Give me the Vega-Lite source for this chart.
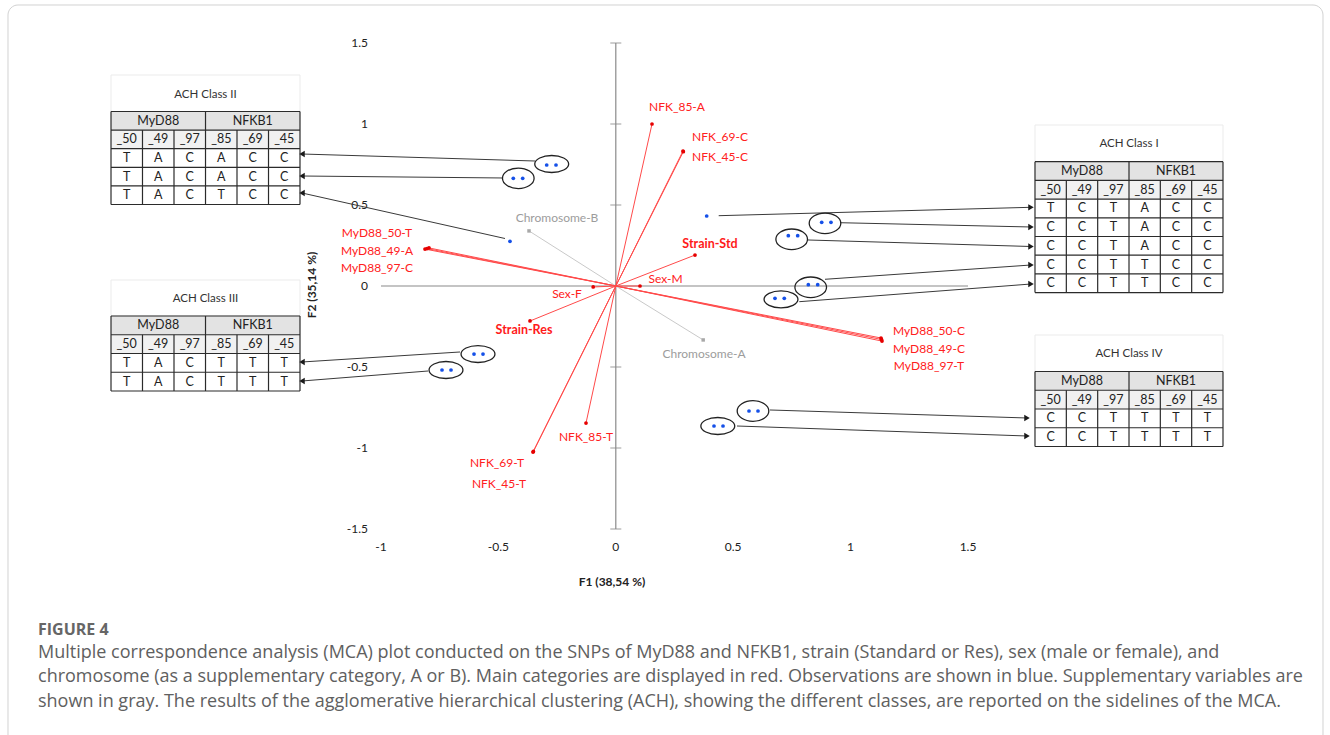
{
"$schema": "https://vega.github.io/schema/vega-lite/v6.json",
"width": 587, "height": 486,
"autosize": {"type": "none"},
"padding": {"left": 381, "top": 43, "right": 362, "bottom": 206},
"background": "white",
"config": {"view": {"stroke": null}, "font": "Lato"},
"datasets": {
"axl": [{"x":-1,"x2":1.5,"y":0,"y2":0},{"x":0,"x2":0,"y":-1.5,"y2":1.5}],
"yt": [{"x":0,"y":-1.5},{"x":0,"y":-1},{"x":0,"y":-0.5},{"x":0,"y":0.5},{"x":0,"y":1},{"x":0,"y":1.5}],
"xlab": [{"x":-1,"y":-1.6111,"t":"-1"},{"x":-0.5,"y":-1.6111,"t":"-0.5"},{"x":0,"y":-1.6111,"t":"0"},{"x":0.5,"y":-1.6111,"t":"0.5"},{"x":1,"y":-1.6111,"t":"1"},{"x":1.5,"y":-1.6111,"t":"1.5"}],
"ylab": [{"x":-1.0554,"y":1.5,"t":"1.5"},{"x":-1.0554,"y":1,"t":"1"},{"x":-1.0554,"y":0.5,"t":"0.5"},{"x":-1.0554,"y":0,"t":"0"},{"x":-1.0554,"y":-0.5,"t":"-0.5"},{"x":-1.0554,"y":-1,"t":"-1"},{"x":-1.0554,"y":-1.5,"t":"-1.5"}],
"cats": [
{"n":"NFK_85-A","x":0.1542,"y":1.0,"k":"m"},
{"n":"NFK_69-C","x":0.2862,"y":0.833,"k":"m"},
{"n":"NFK_45-C","x":0.2875,"y":0.829,"k":"m"},
{"n":"MyD88_50-T","x":-0.8126,"y":0.228,"k":"m"},
{"n":"MyD88_49-A","x":-0.7956,"y":0.235,"k":"m"},
{"n":"MyD88_97-C","x":-0.8041,"y":0.231,"k":"m"},
{"n":"Sex-F","x":-0.0963,"y":-0.006,"k":"m"},
{"n":"Sex-M","x":0.1031,"y":0.0,"k":"m"},
{"n":"Strain-Std","x":0.3373,"y":0.191,"k":"m"},
{"n":"Strain-Res","x":-0.3654,"y":-0.216,"k":"m"},
{"n":"MyD88_50-C","x":1.1295,"y":-0.321,"k":"m"},
{"n":"MyD88_49-C","x":1.1337,"y":-0.340,"k":"m"},
{"n":"MyD88_97-T","x":1.1316,"y":-0.330,"k":"m"},
{"n":"NFK_85-T","x":-0.1269,"y":-0.846,"k":"m"},
{"n":"NFK_69-T","x":-0.3526,"y":-1.025,"k":"m"},
{"n":"NFK_45-T","x":-0.3510,"y":-1.021,"k":"m"},
{"n":"Chromosome-B","x":-0.3697,"y":0.340,"k":"s"},
{"n":"Chromosome-A","x":0.3722,"y":-0.333,"k":"s"}
],
"labs": [
{"t":"NFK_85-A","x":0.2606,"y":1.105,"k":"m"},
{"t":"NFK_69-C","x":0.4438,"y":0.920,"k":"m"},
{"t":"NFK_45-C","x":0.4438,"y":0.796,"k":"m"},
{"t":"MyD88_50-T","x":-1.017,"y":0.327,"k":"m"},
{"t":"MyD88_49-A","x":-1.017,"y":0.216,"k":"m"},
{"t":"MyD88_97-C","x":-1.017,"y":0.111,"k":"m"},
{"t":"Sex-F","x":-0.2078,"y":-0.049,"k":"m"},
{"t":"Sex-M","x":0.2117,"y":0.043,"k":"m"},
{"t":"Strain-Std","x":0.4012,"y":0.259,"k":"b"},
{"t":"Strain-Res","x":-0.391,"y":-0.272,"k":"b"},
{"t":"MyD88_50-C","x":1.3339,"y":-0.278,"k":"m"},
{"t":"MyD88_49-C","x":1.3339,"y":-0.389,"k":"m"},
{"t":"MyD88_97-T","x":1.3339,"y":-0.494,"k":"m"},
{"t":"NFK_85-T","x":-0.1269,"y":-0.932,"k":"m"},
{"t":"NFK_69-T","x":-0.506,"y":-1.093,"k":"m"},
{"t":"NFK_45-T","x":-0.4975,"y":-1.222,"k":"m"},
{"t":"Chromosome-B","x":-0.2504,"y":0.420,"k":"s"},
{"t":"Chromosome-A","x":0.3756,"y":-0.420,"k":"s"}
],
"obs": [{"x":-0.2943,"y":0.7469},{"x":-0.2547,"y":0.7469},{"x":-0.4365,"y":0.6648},{"x":-0.3965,"y":0.6648},{"x":-0.4506,"y":0.2759},{"x":0.3871,"y":0.4321},{"x":0.8769,"y":0.3932},{"x":0.9165,"y":0.3932},{"x":0.7347,"y":0.3105},{"x":0.7747,"y":0.3105},{"x":0.8199,"y":0.008},{"x":0.8599,"y":0.008},{"x":0.678,"y":-0.0759},{"x":0.7176,"y":-0.0759},{"x":-0.6039,"y":-0.4198},{"x":-0.5656,"y":-0.4198},{"x":-0.7402,"y":-0.5185},{"x":-0.7019,"y":-0.5185},{"x":0.5673,"y":-0.7716},{"x":0.6056,"y":-0.7716},{"x":0.4182,"y":-0.8642},{"x":0.4566,"y":-0.8642}],
"ell": [{"x":-0.273,"y":0.7531,"g":"w"},{"x":-0.4153,"y":0.6648,"g":"r"},{"x":0.891,"y":0.387,"g":"r"},{"x":0.7491,"y":0.2883,"g":"r"},{"x":0.8301,"y":-0.008,"g":"r"},{"x":0.7036,"y":-0.0821,"g":"w"},{"x":-0.5869,"y":-0.4198,"g":"w"},{"x":-0.7232,"y":-0.5185,"g":"w"},{"x":0.5843,"y":-0.7716,"g":"r"},{"x":0.4344,"y":-0.8642,"g":"w"}],
"arr": [
{"x":-0.3441,"y":0.7716,"x2":-1.3365,"y2":0.8148,"d":"L"},
{"x":-0.4804,"y":0.6667,"x2":-1.3365,"y2":0.679,"d":"L"},
{"x":-0.4719,"y":0.2932,"x2":-1.3365,"y2":0.5741,"d":"L"},
{"x":-0.6635,"y":-0.4074,"x2":-1.3365,"y2":-0.4691,"d":"L"},
{"x":-0.7998,"y":-0.5247,"x2":-1.3365,"y2":-0.5864,"d":"L"},
{"x":0.4382,"y":0.434,"x2":1.7683,"y2":0.4858,"d":"R"},
{"x":0.9549,"y":0.3907,"x2":1.7683,"y2":0.3642,"d":"R"},
{"x":0.8186,"y":0.284,"x2":1.7683,"y2":0.2438,"d":"R"},
{"x":0.891,"y":0.0414,"x2":1.7683,"y2":0.1296,"d":"R"},
{"x":0.7815,"y":-0.0969,"x2":1.7683,"y2":0.0123,"d":"R"},
{"x":0.6567,"y":-0.7654,"x2":1.7513,"y2":-0.8148,"d":"R"},
{"x":0.5162,"y":-0.8642,"x2":1.7513,"y2":-0.9259,"d":"R"}
],
"fills": [
{"x":-2.1499,"x2":-1.345,"y":1.0772,"y2":0.9623,"f":"h1"},{"x":-2.1499,"x2":-1.345,"y":0.9623,"y2":0.8475,"f":"h2"},
{"x":-2.1499,"x2":-1.345,"y":-0.1852,"y2":-0.3009,"f":"h1"},{"x":-2.1499,"x2":-1.345,"y":-0.3009,"y2":-0.4167,"f":"h2"},
{"x":1.7853,"x2":2.586,"y":0.7673,"y2":0.6519,"f":"h1"},{"x":1.7853,"x2":2.586,"y":0.6519,"y2":0.5364,"f":"h2"},
{"x":1.7853,"x2":2.586,"y":-0.5278,"y2":-0.6435,"f":"h1"},{"x":1.7853,"x2":2.586,"y":-0.6435,"y2":-0.7593,"f":"h2"}
],
"tbox": [{"x":-2.1499,"x2":-1.345,"y":1.3025,"y2":1.0772},{"x":-2.1499,"x2":-1.345,"y":0.037,"y2":-0.1852},{"x":1.7853,"x2":2.586,"y":0.9938,"y2":0.7673},{"x":1.7853,"x2":2.586,"y":-0.3025,"y2":-0.5278}],
"ttl": [{"x":-1.7474,"y":1.179,"t":"ACH Class II"},{"x":-1.7474,"y":-0.0802,"t":"ACH Class III"},{"x":2.1857,"y":0.8765,"t":"ACH Class I"},{"x":2.1857,"y":-0.4198,"t":"ACH Class IV"}],
"grid": [
{"x":-2.1499,"x2":-1.345,"y":1.0772,"y2":1.0772},{"x":-2.1499,"x2":-1.345,"y":0.9623,"y2":0.9623},{"x":-2.1499,"x2":-1.345,"y":0.8475,"y2":0.8475},{"x":-2.1499,"x2":-1.345,"y":0.7327,"y2":0.7327},{"x":-2.1499,"x2":-1.345,"y":0.6179,"y2":0.6179},{"x":-2.1499,"x2":-1.345,"y":0.5031,"y2":0.5031},
{"x":-2.1499,"x2":-2.1499,"y":1.0772,"y2":0.5031},{"x":-1.7474,"x2":-1.7474,"y":1.0772,"y2":0.5031},{"x":-1.345,"x2":-1.345,"y":1.0772,"y2":0.5031},
{"x":-2.0158,"x2":-2.0158,"y":0.9623,"y2":0.5031},{"x":-1.8816,"x2":-1.8816,"y":0.9623,"y2":0.5031},{"x":-1.6133,"x2":-1.6133,"y":0.9623,"y2":0.5031},{"x":-1.4791,"x2":-1.4791,"y":0.9623,"y2":0.5031},
{"x":-2.1499,"x2":-1.345,"y":-0.1852,"y2":-0.1852},{"x":-2.1499,"x2":-1.345,"y":-0.3009,"y2":-0.3009},{"x":-2.1499,"x2":-1.345,"y":-0.4167,"y2":-0.4167},{"x":-2.1499,"x2":-1.345,"y":-0.5324,"y2":-0.5324},{"x":-2.1499,"x2":-1.345,"y":-0.6481,"y2":-0.6481},
{"x":-2.1499,"x2":-2.1499,"y":-0.1852,"y2":-0.6481},{"x":-1.7474,"x2":-1.7474,"y":-0.1852,"y2":-0.6481},{"x":-1.345,"x2":-1.345,"y":-0.1852,"y2":-0.6481},
{"x":-2.0158,"x2":-2.0158,"y":-0.3009,"y2":-0.6481},{"x":-1.8816,"x2":-1.8816,"y":-0.3009,"y2":-0.6481},{"x":-1.6133,"x2":-1.6133,"y":-0.3009,"y2":-0.6481},{"x":-1.4791,"x2":-1.4791,"y":-0.3009,"y2":-0.6481},
{"x":1.7853,"x2":2.586,"y":0.7673,"y2":0.7673},{"x":1.7853,"x2":2.586,"y":0.6519,"y2":0.6519},{"x":1.7853,"x2":2.586,"y":0.5364,"y2":0.5364},{"x":1.7853,"x2":2.586,"y":0.421,"y2":0.421},{"x":1.7853,"x2":2.586,"y":0.3056,"y2":0.3056},{"x":1.7853,"x2":2.586,"y":0.1901,"y2":0.1901},{"x":1.7853,"x2":2.586,"y":0.0747,"y2":0.0747},{"x":1.7853,"x2":2.586,"y":-0.0407,"y2":-0.0407},
{"x":1.7853,"x2":1.7853,"y":0.7673,"y2":-0.0407},{"x":2.1857,"x2":2.1857,"y":0.7673,"y2":-0.0407},{"x":2.586,"x2":2.586,"y":0.7673,"y2":-0.0407},
{"x":1.9188,"x2":1.9188,"y":0.6519,"y2":-0.0407},{"x":2.0523,"x2":2.0523,"y":0.6519,"y2":-0.0407},{"x":2.3191,"x2":2.3191,"y":0.6519,"y2":-0.0407},{"x":2.4526,"x2":2.4526,"y":0.6519,"y2":-0.0407},
{"x":1.7853,"x2":2.586,"y":-0.5278,"y2":-0.5278},{"x":1.7853,"x2":2.586,"y":-0.6435,"y2":-0.6435},{"x":1.7853,"x2":2.586,"y":-0.7593,"y2":-0.7593},{"x":1.7853,"x2":2.586,"y":-0.875,"y2":-0.875},{"x":1.7853,"x2":2.586,"y":-0.9907,"y2":-0.9907},
{"x":1.7853,"x2":1.7853,"y":-0.5278,"y2":-0.9907},{"x":2.1857,"x2":2.1857,"y":-0.5278,"y2":-0.9907},{"x":2.586,"x2":2.586,"y":-0.5278,"y2":-0.9907},
{"x":1.9188,"x2":1.9188,"y":-0.6435,"y2":-0.9907},{"x":2.0523,"x2":2.0523,"y":-0.6435,"y2":-0.9907},{"x":2.3191,"x2":2.3191,"y":-0.6435,"y2":-0.9907},{"x":2.4526,"x2":2.4526,"y":-0.6435,"y2":-0.9907}
],
"cells": [
{"x":-1.9487,"y":1.0198,"t":"MyD88"},{"x":-1.5462,"y":1.0198,"t":"NFKB1"},
{"x":-2.0829,"y":0.9049,"t":"_50"},{"x":-1.9487,"y":0.9049,"t":"_49"},{"x":-1.8145,"y":0.9049,"t":"_97"},{"x":-1.6803,"y":0.9049,"t":"_85"},{"x":-1.5462,"y":0.9049,"t":"_69"},{"x":-1.412,"y":0.9049,"t":"_45"},
{"x":-2.0829,"y":0.7901,"t":"T"},{"x":-1.9487,"y":0.7901,"t":"A"},{"x":-1.8145,"y":0.7901,"t":"C"},{"x":-1.6803,"y":0.7901,"t":"A"},{"x":-1.5462,"y":0.7901,"t":"C"},{"x":-1.412,"y":0.7901,"t":"C"},
{"x":-2.0829,"y":0.6753,"t":"T"},{"x":-1.9487,"y":0.6753,"t":"A"},{"x":-1.8145,"y":0.6753,"t":"C"},{"x":-1.6803,"y":0.6753,"t":"A"},{"x":-1.5462,"y":0.6753,"t":"C"},{"x":-1.412,"y":0.6753,"t":"C"},
{"x":-2.0829,"y":0.5605,"t":"T"},{"x":-1.9487,"y":0.5605,"t":"A"},{"x":-1.8145,"y":0.5605,"t":"C"},{"x":-1.6803,"y":0.5605,"t":"T"},{"x":-1.5462,"y":0.5605,"t":"C"},{"x":-1.412,"y":0.5605,"t":"C"},
{"x":-1.9487,"y":-0.2431,"t":"MyD88"},{"x":-1.5462,"y":-0.2431,"t":"NFKB1"},
{"x":-2.0829,"y":-0.3588,"t":"_50"},{"x":-1.9487,"y":-0.3588,"t":"_49"},{"x":-1.8145,"y":-0.3588,"t":"_97"},{"x":-1.6803,"y":-0.3588,"t":"_85"},{"x":-1.5462,"y":-0.3588,"t":"_69"},{"x":-1.412,"y":-0.3588,"t":"_45"},
{"x":-2.0829,"y":-0.4745,"t":"T"},{"x":-1.9487,"y":-0.4745,"t":"A"},{"x":-1.8145,"y":-0.4745,"t":"C"},{"x":-1.6803,"y":-0.4745,"t":"T"},{"x":-1.5462,"y":-0.4745,"t":"T"},{"x":-1.412,"y":-0.4745,"t":"T"},
{"x":-2.0829,"y":-0.5903,"t":"T"},{"x":-1.9487,"y":-0.5903,"t":"A"},{"x":-1.8145,"y":-0.5903,"t":"C"},{"x":-1.6803,"y":-0.5903,"t":"T"},{"x":-1.5462,"y":-0.5903,"t":"T"},{"x":-1.412,"y":-0.5903,"t":"T"},
{"x":1.9855,"y":0.7096,"t":"MyD88"},{"x":2.3859,"y":0.7096,"t":"NFKB1"},
{"x":1.8521,"y":0.5941,"t":"_50"},{"x":1.9855,"y":0.5941,"t":"_49"},{"x":2.119,"y":0.5941,"t":"_97"},{"x":2.2524,"y":0.5941,"t":"_85"},{"x":2.3859,"y":0.5941,"t":"_69"},{"x":2.5193,"y":0.5941,"t":"_45"},
{"x":1.8521,"y":0.4787,"t":"T"},{"x":1.9855,"y":0.4787,"t":"C"},{"x":2.119,"y":0.4787,"t":"T"},{"x":2.2524,"y":0.4787,"t":"A"},{"x":2.3859,"y":0.4787,"t":"C"},{"x":2.5193,"y":0.4787,"t":"C"},
{"x":1.8521,"y":0.3633,"t":"C"},{"x":1.9855,"y":0.3633,"t":"C"},{"x":2.119,"y":0.3633,"t":"T"},{"x":2.2524,"y":0.3633,"t":"A"},{"x":2.3859,"y":0.3633,"t":"C"},{"x":2.5193,"y":0.3633,"t":"C"},
{"x":1.8521,"y":0.2478,"t":"C"},{"x":1.9855,"y":0.2478,"t":"C"},{"x":2.119,"y":0.2478,"t":"T"},{"x":2.2524,"y":0.2478,"t":"A"},{"x":2.3859,"y":0.2478,"t":"C"},{"x":2.5193,"y":0.2478,"t":"C"},
{"x":1.8521,"y":0.1324,"t":"C"},{"x":1.9855,"y":0.1324,"t":"C"},{"x":2.119,"y":0.1324,"t":"T"},{"x":2.2524,"y":0.1324,"t":"T"},{"x":2.3859,"y":0.1324,"t":"C"},{"x":2.5193,"y":0.1324,"t":"C"},
{"x":1.8521,"y":0.017,"t":"C"},{"x":1.9855,"y":0.017,"t":"C"},{"x":2.119,"y":0.017,"t":"T"},{"x":2.2524,"y":0.017,"t":"T"},{"x":2.3859,"y":0.017,"t":"C"},{"x":2.5193,"y":0.017,"t":"C"},
{"x":1.9855,"y":-0.5856,"t":"MyD88"},{"x":2.3859,"y":-0.5856,"t":"NFKB1"},
{"x":1.8521,"y":-0.7014,"t":"_50"},{"x":1.9855,"y":-0.7014,"t":"_49"},{"x":2.119,"y":-0.7014,"t":"_97"},{"x":2.2524,"y":-0.7014,"t":"_85"},{"x":2.3859,"y":-0.7014,"t":"_69"},{"x":2.5193,"y":-0.7014,"t":"_45"},
{"x":1.8521,"y":-0.8171,"t":"C"},{"x":1.9855,"y":-0.8171,"t":"C"},{"x":2.119,"y":-0.8171,"t":"T"},{"x":2.2524,"y":-0.8171,"t":"T"},{"x":2.3859,"y":-0.8171,"t":"T"},{"x":2.5193,"y":-0.8171,"t":"T"},
{"x":1.8521,"y":-0.9329,"t":"C"},{"x":1.9855,"y":-0.9329,"t":"C"},{"x":2.119,"y":-0.9329,"t":"T"},{"x":2.2524,"y":-0.9329,"t":"T"},{"x":2.3859,"y":-0.9329,"t":"T"},{"x":2.5193,"y":-0.9329,"t":"T"}
],
"cap": [
{"x":-2.4608,"y":-2.2654,"t":"Multiple correspondence analysis (MCA) plot conducted on the SNPs of MyD88 and NFKB1, strain (Standard or Res), sex (male or female), and"},
{"x":-2.4608,"y":-2.4136,"t":"chromosome (as a supplementary category, A or B). Main categories are displayed in red. Observations are shown in blue. Supplementary variables are"},
{"x":-2.4608,"y":-2.5679,"t":"shown in gray. The results of the agglomerative hierarchical clustering (ACH), showing the different classes, are reported on the sidelines of the MCA."}
],
"fig": [{"x":-2.4608,"y":-2.1235,"t":"FIGURE 4"}],
"atx": [{"x":-0.0162,"y":-1.8272,"t":"F1 (38,54 %)"}],
"aty": [{"x":-1.2939,"y":0.0062,"t":"F2 (35,14 %)"}],
"frame": [{"x":-2.5886,"x2":3.0119,"y":1.7346,"y2":-2.9259}]
},
"layer": [
{"data":{"name":"axl"},"mark":{"type":"rule","color":"#8a8a8a","strokeWidth":1.2},
 "encoding":{"x":{"field":"x","type":"quantitative","scale":{"domain":[-1,1.5],"nice":false,"zero":false},"axis":null},"x2":{"field":"x2"},
  "y":{"field":"y","type":"quantitative","scale":{"domain":[-1.5,1.5],"nice":false,"zero":false},"axis":null},"y2":{"field":"y2"}}},
{"data":{"name":"frame"},"mark":{"type":"rect","fill":"transparent","stroke":"#d2d2d2","strokeWidth":1,"cornerRadius":10},
 "encoding":{"x":{"field":"x","type":"quantitative","scale":{"domain":[-1,1.5],"nice":false,"zero":false},"axis":null},"x2":{"field":"x2"},
  "y":{"field":"y","type":"quantitative","scale":{"domain":[-1.5,1.5],"nice":false,"zero":false},"axis":null},"y2":{"field":"y2"}}},
{"data":{"name":"yt"},"mark":{"type":"tick","orient":"horizontal","size":11,"thickness":1.2,"color":"#8a8a8a"},
 "encoding":{"x":{"field":"x","type":"quantitative","scale":{"domain":[-1,1.5],"nice":false,"zero":false},"axis":null},
  "y":{"field":"y","type":"quantitative","scale":{"domain":[-1.5,1.5],"nice":false,"zero":false},"axis":null}}},
{"data":{"name":"xlab"},"mark":{"type":"text","font":"Lato","fontSize":12,"color":"#222","align":"center","baseline":"middle"},
 "encoding":{"x":{"field":"x","type":"quantitative","scale":{"domain":[-1,1.5],"nice":false,"zero":false},"axis":null},
  "y":{"field":"y","type":"quantitative","scale":{"domain":[-1.5,1.5],"nice":false,"zero":false},"axis":null},"text":{"field":"t"}}},
{"data":{"name":"ylab"},"mark":{"type":"text","font":"Lato","fontSize":12,"color":"#222","align":"right","baseline":"middle"},
 "encoding":{"x":{"field":"x","type":"quantitative","scale":{"domain":[-1,1.5],"nice":false,"zero":false},"axis":null},
  "y":{"field":"y","type":"quantitative","scale":{"domain":[-1.5,1.5],"nice":false,"zero":false},"axis":null},"text":{"field":"t"}}},
{"data":{"name":"cats"},"transform":[{"filter":"datum.k == 's'"}],"mark":{"type":"rule","color":"#c9c9c9","strokeWidth":1},
 "encoding":{"x":{"field":"x","type":"quantitative","scale":{"domain":[-1,1.5],"nice":false,"zero":false},"axis":null},"x2":{"datum":0},
  "y":{"field":"y","type":"quantitative","scale":{"domain":[-1.5,1.5],"nice":false,"zero":false},"axis":null},"y2":{"datum":0}}},
{"data":{"name":"cats"},"transform":[{"filter":"datum.k == 'm'"}],"mark":{"type":"rule","color":"#ff4a4a","strokeWidth":1},
 "encoding":{"x":{"field":"x","type":"quantitative","scale":{"domain":[-1,1.5],"nice":false,"zero":false},"axis":null},"x2":{"datum":0},
  "y":{"field":"y","type":"quantitative","scale":{"domain":[-1.5,1.5],"nice":false,"zero":false},"axis":null},"y2":{"datum":0}}},
{"data":{"name":"cats"},"transform":[{"filter":"datum.k == 's'"}],"mark":{"type":"point","shape":"square","filled":true,"size":12,"color":"#a8a8a8","opacity":1},
 "encoding":{"x":{"field":"x","type":"quantitative","scale":{"domain":[-1,1.5],"nice":false,"zero":false},"axis":null},
  "y":{"field":"y","type":"quantitative","scale":{"domain":[-1.5,1.5],"nice":false,"zero":false},"axis":null}}},
{"data":{"name":"cats"},"transform":[{"filter":"datum.k == 'm'"}],"mark":{"type":"point","shape":"circle","filled":true,"size":14,"color":"#e60000","opacity":1},
 "encoding":{"x":{"field":"x","type":"quantitative","scale":{"domain":[-1,1.5],"nice":false,"zero":false},"axis":null},
  "y":{"field":"y","type":"quantitative","scale":{"domain":[-1.5,1.5],"nice":false,"zero":false},"axis":null}}},
{"data":{"name":"labs"},"transform":[{"filter":"datum.k == 'm'"}],"mark":{"type":"text","font":"Lato","fontSize":12,"color":"#ff2020","align":"center","baseline":"middle"},
 "encoding":{"x":{"field":"x","type":"quantitative","scale":{"domain":[-1,1.5],"nice":false,"zero":false},"axis":null},
  "y":{"field":"y","type":"quantitative","scale":{"domain":[-1.5,1.5],"nice":false,"zero":false},"axis":null},"text":{"field":"t"}}},
{"data":{"name":"labs"},"transform":[{"filter":"datum.k == 'b'"}],"mark":{"type":"text","font":"Lato","fontSize":12.5,"fontWeight":"bold","color":"#ff1a1a","align":"center","baseline":"middle"},
 "encoding":{"x":{"field":"x","type":"quantitative","scale":{"domain":[-1,1.5],"nice":false,"zero":false},"axis":null},
  "y":{"field":"y","type":"quantitative","scale":{"domain":[-1.5,1.5],"nice":false,"zero":false},"axis":null},"text":{"field":"t"}}},
{"data":{"name":"labs"},"transform":[{"filter":"datum.k == 's'"}],"mark":{"type":"text","font":"Lato","fontSize":12,"color":"#9c9c9c","align":"center","baseline":"middle"},
 "encoding":{"x":{"field":"x","type":"quantitative","scale":{"domain":[-1,1.5],"nice":false,"zero":false},"axis":null},
  "y":{"field":"y","type":"quantitative","scale":{"domain":[-1.5,1.5],"nice":false,"zero":false},"axis":null},"text":{"field":"t"}}},
{"data":{"name":"arr"},"mark":{"type":"rule","color":"#3a3a3a","strokeWidth":1},
 "encoding":{"x":{"field":"x","type":"quantitative","scale":{"domain":[-1,1.5],"nice":false,"zero":false},"axis":null},"x2":{"field":"x2"},
  "y":{"field":"y","type":"quantitative","scale":{"domain":[-1.5,1.5],"nice":false,"zero":false},"axis":null},"y2":{"field":"y2"}}},
{"data":{"name":"arr"},"transform":[{"filter":"datum.d == 'L'"}],"mark":{"type":"point","shape":"triangle-left","filled":true,"size":40,"color":"#1a1a1a","opacity":1},
 "encoding":{"x":{"field":"x2","type":"quantitative","scale":{"domain":[-1,1.5],"nice":false,"zero":false},"axis":null},
  "y":{"field":"y2","type":"quantitative","scale":{"domain":[-1.5,1.5],"nice":false,"zero":false},"axis":null}}},
{"data":{"name":"arr"},"transform":[{"filter":"datum.d == 'R'"}],"mark":{"type":"point","shape":"triangle-right","filled":true,"size":40,"color":"#1a1a1a","opacity":1},
 "encoding":{"x":{"field":"x2","type":"quantitative","scale":{"domain":[-1,1.5],"nice":false,"zero":false},"axis":null},
  "y":{"field":"y2","type":"quantitative","scale":{"domain":[-1.5,1.5],"nice":false,"zero":false},"axis":null}}},
{"data":{"name":"ell"},"transform":[{"filter":"datum.g == 'w'"}],"mark":{"type":"point","shape":"M-1,0C-1,-0.2761 -0.5523,-0.5 0,-0.5C0.5523,-0.5 1,-0.2761 1,0C1,0.2761 0.5523,0.5 0,0.5C-0.5523,0.5 -1,0.2761 -1,0Z","filled":false,"size":1150,"color":"#222","strokeWidth":1.3,"opacity":1},
 "encoding":{"x":{"field":"x","type":"quantitative","scale":{"domain":[-1,1.5],"nice":false,"zero":false},"axis":null},
  "y":{"field":"y","type":"quantitative","scale":{"domain":[-1.5,1.5],"nice":false,"zero":false},"axis":null}}},
{"data":{"name":"ell"},"transform":[{"filter":"datum.g == 'r'"}],"mark":{"type":"point","shape":"M-1,0C-1,-0.359 -0.5523,-0.65 0,-0.65C0.5523,-0.65 1,-0.359 1,0C1,0.359 0.5523,0.65 0,0.65C-0.5523,0.65 -1,0.359 -1,0Z","filled":false,"size":1000,"color":"#222","strokeWidth":1.3,"opacity":1},
 "encoding":{"x":{"field":"x","type":"quantitative","scale":{"domain":[-1,1.5],"nice":false,"zero":false},"axis":null},
  "y":{"field":"y","type":"quantitative","scale":{"domain":[-1.5,1.5],"nice":false,"zero":false},"axis":null}}},
{"data":{"name":"obs"},"mark":{"type":"point","shape":"circle","filled":true,"size":14,"color":"#1550e8","opacity":1},
 "encoding":{"x":{"field":"x","type":"quantitative","scale":{"domain":[-1,1.5],"nice":false,"zero":false},"axis":null},
  "y":{"field":"y","type":"quantitative","scale":{"domain":[-1.5,1.5],"nice":false,"zero":false},"axis":null}}},
{"data":{"name":"tbox"},"mark":{"type":"rect","fill":"transparent","stroke":"#ebebeb","strokeWidth":1},
 "encoding":{"x":{"field":"x","type":"quantitative","scale":{"domain":[-1,1.5],"nice":false,"zero":false},"axis":null},"x2":{"field":"x2"},
  "y":{"field":"y","type":"quantitative","scale":{"domain":[-1.5,1.5],"nice":false,"zero":false},"axis":null},"y2":{"field":"y2"}}},
{"data":{"name":"fills"},"mark":{"type":"rect","opacity":1},
 "encoding":{"x":{"field":"x","type":"quantitative","scale":{"domain":[-1,1.5],"nice":false,"zero":false},"axis":null},"x2":{"field":"x2"},
  "y":{"field":"y","type":"quantitative","scale":{"domain":[-1.5,1.5],"nice":false,"zero":false},"axis":null},"y2":{"field":"y2"},
  "color":{"field":"f","type":"nominal","scale":{"domain":["h1","h2"],"range":["#e3e3e3","#f1f1f1"]},"legend":null}}},
{"data":{"name":"grid"},"mark":{"type":"rule","color":"#2b2b2b","strokeWidth":1.2},
 "encoding":{"x":{"field":"x","type":"quantitative","scale":{"domain":[-1,1.5],"nice":false,"zero":false},"axis":null},"x2":{"field":"x2"},
  "y":{"field":"y","type":"quantitative","scale":{"domain":[-1.5,1.5],"nice":false,"zero":false},"axis":null},"y2":{"field":"y2"}}},
{"data":{"name":"cells"},"mark":{"type":"text","font":"Lato","fontSize":12.5,"color":"#222","align":"center","baseline":"middle"},
 "encoding":{"x":{"field":"x","type":"quantitative","scale":{"domain":[-1,1.5],"nice":false,"zero":false},"axis":null},
  "y":{"field":"y","type":"quantitative","scale":{"domain":[-1.5,1.5],"nice":false,"zero":false},"axis":null},"text":{"field":"t"}}},
{"data":{"name":"ttl"},"mark":{"type":"text","font":"Lato","fontSize":11.5,"color":"#333","align":"center","baseline":"middle"},
 "encoding":{"x":{"field":"x","type":"quantitative","scale":{"domain":[-1,1.5],"nice":false,"zero":false},"axis":null},
  "y":{"field":"y","type":"quantitative","scale":{"domain":[-1.5,1.5],"nice":false,"zero":false},"axis":null},"text":{"field":"t"}}},
{"data":{"name":"atx"},"mark":{"type":"text","font":"Lato","fontSize":12,"fontWeight":"bold","color":"#222","align":"center","baseline":"middle"},
 "encoding":{"x":{"field":"x","type":"quantitative","scale":{"domain":[-1,1.5],"nice":false,"zero":false},"axis":null},
  "y":{"field":"y","type":"quantitative","scale":{"domain":[-1.5,1.5],"nice":false,"zero":false},"axis":null},"text":{"field":"t"}}},
{"data":{"name":"aty"},"mark":{"type":"text","font":"Lato","fontSize":12,"fontWeight":"bold","color":"#222","align":"center","baseline":"middle","angle":270},
 "encoding":{"x":{"field":"x","type":"quantitative","scale":{"domain":[-1,1.5],"nice":false,"zero":false},"axis":null},
  "y":{"field":"y","type":"quantitative","scale":{"domain":[-1.5,1.5],"nice":false,"zero":false},"axis":null},"text":{"field":"t"}}},
{"data":{"name":"fig"},"mark":{"type":"text","font":"Open Sans","fontSize":16,"fontWeight":"bold","color":"#666","align":"left","baseline":"middle"},
 "encoding":{"x":{"field":"x","type":"quantitative","scale":{"domain":[-1,1.5],"nice":false,"zero":false},"axis":null},
  "y":{"field":"y","type":"quantitative","scale":{"domain":[-1.5,1.5],"nice":false,"zero":false},"axis":null},"text":{"field":"t"}}},
{"data":{"name":"cap"},"mark":{"type":"text","font":"Open Sans","fontSize":18,"color":"#606060","align":"left","baseline":"middle"},
 "encoding":{"x":{"field":"x","type":"quantitative","scale":{"domain":[-1,1.5],"nice":false,"zero":false},"axis":null},
  "y":{"field":"y","type":"quantitative","scale":{"domain":[-1.5,1.5],"nice":false,"zero":false},"axis":null},"text":{"field":"t"}}}
]
}
